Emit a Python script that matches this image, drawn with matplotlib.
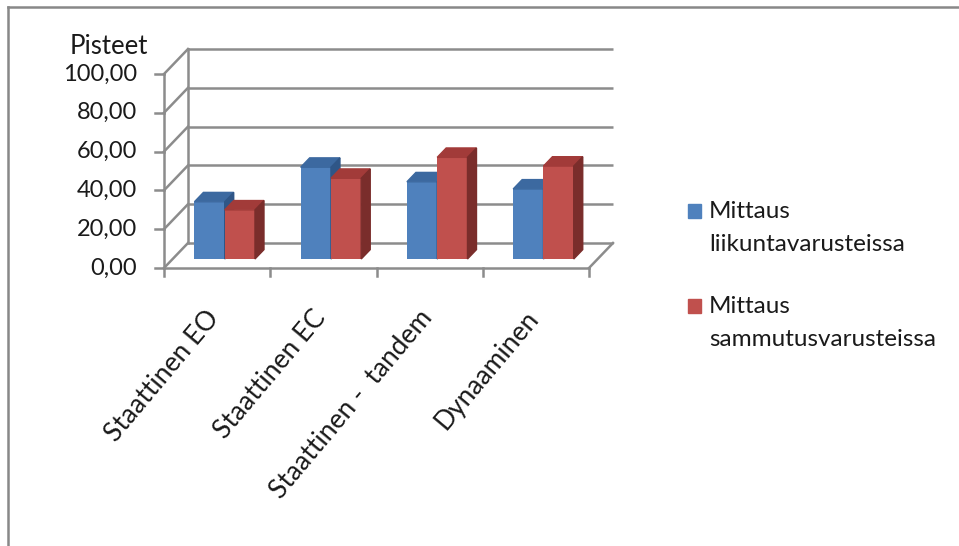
import matplotlib
matplotlib.use("Agg")
import matplotlib.pyplot as plt
from matplotlib.patches import Polygon, Rectangle
from matplotlib.lines import Line2D

# --- DATA ---
categories = ["Staattinen EO", "Staattinen EC", "Staattinen -  tandem", "Dynaaminen"]
series_names = ["Mittaus\nliikuntavarusteissa", "Mittaus\nsammutusvarusteissa"]
liikunta = [29.5, 47.3, 39.8, 36.1]
sammutus = [25.3, 41.6, 52.4, 47.9]
y_ticks = [0, 20, 40, 60, 80, 100]
y_ticklabels = ["0,00", "20,00", "40,00", "60,00", "80,00", "100,00"]

# --- STYLE ---
FONT = "Lato"
FS = 17
GRID = "#8c8c8c"
TXT = "#1a1a1a"
FACES = [("#4f81bd", "#3c69a0", "#2f5687"),   # front, top, side
         ("#c0504d", "#a23b39", "#7a2d2b")]

W_PX, H_PX = 959, 546
fig = plt.figure(figsize=(W_PX / 100, H_PX / 100), dpi=100)

# pixel geometry of the front plane
X0, X4 = 164, 589          # category axis start / end
Y0, Y100 = 268, 74         # value 0 / 100
px_cat = (X4 - X0) / 4
px_val = (Y0 - Y100) / 100
xlim = (-0.5, 4.5)
ylim = (-20, 115)
left = X0 + xlim[0] * px_cat
right = X0 + xlim[1] * px_cat
top = Y0 - ylim[1] * px_val
bottom = Y0 - ylim[0] * px_val
ax = fig.add_axes([left / W_PX, 1 - bottom / H_PX, (right - left) / W_PX, (bottom - top) / H_PX])
ax.set_xlim(*xlim)
ax.set_ylim(*ylim)
ax.axis("off")

# depth offset of the back wall in data units
DX = 24 / px_cat
DY = 25 / px_val

lw = 1.8
for v in y_ticks:
    ax.plot([DX, 4 + DX], [v + DY, v + DY], color=GRID, lw=lw, solid_capstyle="butt", zorder=1)
    ax.plot([0, DX], [v, v + DY], color=GRID, lw=lw, zorder=1)
ax.plot([DX, DX], [DY, 100 + DY], color=GRID, lw=lw, zorder=1)
ax.plot([4, 4 + DX], [0, DY], color=GRID, lw=lw, zorder=1)
# front axes
ax.plot([0, 0], [0, 100], color=GRID, lw=lw, zorder=1)
ax.plot([0, 4], [0, 0], color=GRID, lw=lw, zorder=1)
tick_y = 9 / px_cat
for v, lab in zip(y_ticks, y_ticklabels):
    ax.plot([-tick_y, 0], [v, v], color=GRID, lw=lw, zorder=1)
    ax.text(-27 / px_cat, v, lab, ha="right", va="center", fontsize=FS, family=FONT, color=TXT)
for i in range(5):
    ax.plot([i, i], [0, -8 / px_val], color=GRID, lw=lw, zorder=1)

# 3D-looking columns
d0 = 9 / 25          # depth position of the column front
dd = 9 / 24          # column depth
bw = 0.285
for s, vals in enumerate([liikunta, sammutus]):
    front, topc, side = FACES[s]
    xs = [i + 0.49 - bw + s * bw + d0 * DX for i in range(len(vals))]
    base = d0 * DY
    ax.bar(xs, vals, width=bw, bottom=base, align="edge", color=front, zorder=3 + s * 0.1)
    for x, v in zip(xs, vals):
        ox, oy = dd * DX, dd * DY
        topf = [(x, base + v), (x + bw, base + v), (x + bw + ox, base + v + oy), (x + ox, base + v + oy)]
        sidef = [(x + bw, base), (x + bw + ox, base + oy), (x + bw + ox, base + v + oy), (x + bw, base + v)]
        ax.add_patch(Polygon(topf, closed=True, color=topc, zorder=3 + s * 0.1))
        ax.add_patch(Polygon(sidef, closed=True, color=side, zorder=3 + s * 0.1))

# category labels
for i, cat in enumerate(categories):
    ax.text(i + 0.39, -19.5, cat, rotation=50, rotation_mode="anchor", ha="right", va="top",
            fontsize=19, family=FONT, color=TXT)

# axis title
fig.text(70 / W_PX, 1 - 34 / H_PX, "Pisteet", ha="left", va="top", fontsize=18.5, family=FONT, color=TXT)

# legend
for s, name in enumerate(series_names):
    ty = 204 + s * 95
    fig.add_artist(Rectangle((688 / W_PX, 1 - (ty + 14) / H_PX), 13 / W_PX, 14 / H_PX,
                             transform=fig.transFigure, color=FACES[s][0]))
    fig.text(709 / W_PX, 1 - (ty - 3) / H_PX, name, ha="left", va="top", fontsize=17.5,
             family=FONT, linespacing=1.7, color=TXT)

# chart frame
fig.add_artist(Line2D([8 / W_PX, 8 / W_PX], [0, 1 - 7 / H_PX], transform=fig.transFigure, color="#888888", lw=1.8))
fig.add_artist(Line2D([8 / W_PX, 1], [1 - 7 / H_PX, 1 - 7 / H_PX], transform=fig.transFigure, color="#888888", lw=1.8))

fig.savefig("out.png", dpi=100)
